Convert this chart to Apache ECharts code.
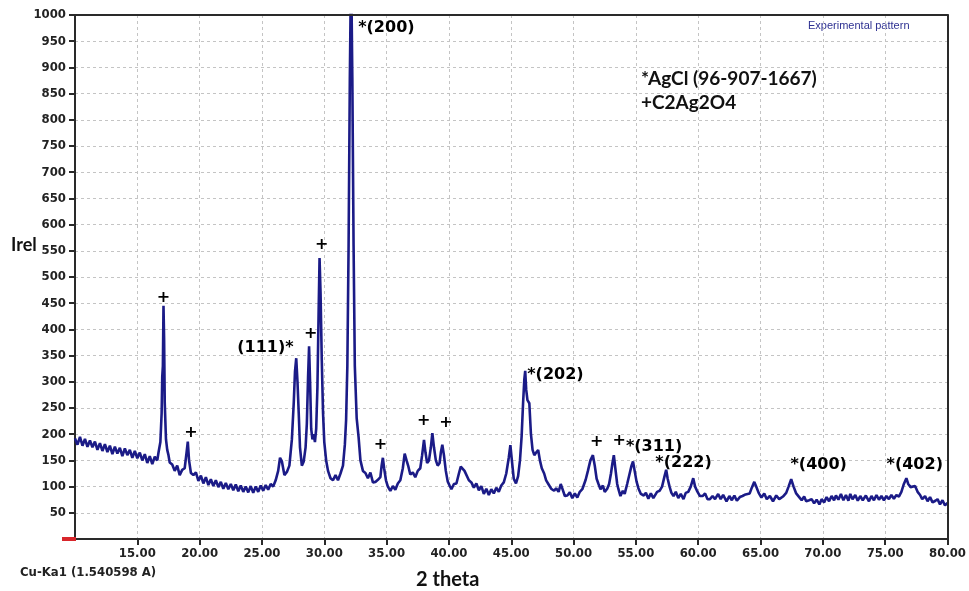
<!DOCTYPE html>
<html>
<head>
<meta charset="utf-8">
<title>XRD pattern</title>
<script src="https://cdn.jsdelivr.net/npm/echarts@6/dist/echarts.min.js"></script>
<style>
  html, body { margin: 0; background: #fff; }
  #xrd-chart { width: 969px; height: 591px; }
</style>
</head>
<body>
<div id="xrd-chart"></div>
<script>
// scan, [2theta, Irel], split in ranges
const lowAngleScan = [
  [10.0, 192], [10.2, 180], [10.4, 195], [10.6, 178], [10.8, 191], [11.0, 176], [11.2, 188], [11.4, 175],
  [11.6, 186], [11.8, 170], [12.0, 183], [12.2, 168], [12.4, 181], [12.6, 166], [12.8, 178], [13.0, 162],
  [13.2, 176], [13.4, 163], [13.6, 174], [13.8, 158], [14.0, 173], [14.2, 160], [14.4, 170], [14.6, 155],
  [14.8, 168], [15.0, 154], [15.2, 165], [15.4, 150], [15.6, 162], [15.8, 145], [16.0, 158], [16.2, 143],
  [16.4, 157], [16.6, 150], [16.7, 165], [16.85, 185], [16.95, 240], [17.0, 310], [17.05, 330], [17.1, 445],
  [17.15, 380], [17.2, 260], [17.3, 190], [17.4, 170], [17.5, 160], [17.6, 146], [17.8, 142], [18.0, 130],
  [18.2, 140], [18.4, 122], [18.6, 132], [18.8, 135], [18.95, 165], [19.05, 186], [19.15, 150], [19.3, 126],
  [19.5, 122], [19.7, 127], [19.9, 111], [20.1, 121], [20.3, 106], [20.5, 118], [20.7, 103], [20.9, 114],
  [21.1, 101], [21.3, 112], [21.5, 99], [21.7, 109], [21.9, 96], [22.1, 107], [22.3, 95], [22.5, 105],
  [22.7, 93], [22.9, 104], [23.1, 91], [23.3, 102], [23.5, 90], [23.7, 100], [23.9, 89], [24.1, 101],
  [24.3, 88], [24.5, 100], [24.7, 90], [24.9, 102], [25.1, 92], [25.3, 103], [25.5, 94], [25.7, 105],
  [25.9, 100], [26.1, 112], [26.3, 130], [26.45, 155], [26.6, 148], [26.8, 122], [27.0, 128], [27.2, 140]
];

const mainPeakScan = [
  [27.4, 190], [27.55, 260], [27.65, 320], [27.75, 345], [27.85, 300], [27.95, 240], [28.05, 175], [28.2, 140],
  [28.35, 148], [28.5, 175], [28.6, 220], [28.7, 310], [28.78, 368], [28.86, 300], [28.95, 210], [29.05, 190],
  [29.15, 200], [29.25, 185], [29.35, 210], [29.45, 290], [29.55, 440], [29.62, 536], [29.7, 470], [29.8, 340],
  [29.9, 240], [30.0, 185], [30.15, 150], [30.3, 130], [30.5, 116], [30.7, 112], [30.9, 122], [31.1, 112],
  [31.3, 125], [31.5, 140], [31.65, 180], [31.75, 227], [31.85, 330], [31.95, 560], [32.05, 880], [32.15, 1100],
  [32.25, 880], [32.35, 560], [32.45, 330], [32.6, 230], [32.75, 195], [32.9, 150], [33.1, 130], [33.3, 126],
  [33.5, 116], [33.7, 127], [33.9, 108], [34.1, 109], [34.3, 113], [34.5, 118], [34.6, 140], [34.7, 155],
  [34.8, 135], [34.95, 112], [35.1, 100], [35.3, 92], [35.5, 101], [35.7, 94], [35.9, 106], [36.1, 112],
  [36.3, 135], [36.45, 163], [36.6, 150], [36.75, 138], [36.9, 123], [37.1, 127], [37.3, 118], [37.5, 130],
  [37.7, 135], [37.85, 160], [38.0, 189], [38.12, 165], [38.25, 145], [38.4, 150], [38.55, 175], [38.67, 202],
  [38.8, 175], [38.95, 150], [39.1, 140], [39.25, 145], [39.35, 165], [39.47, 180], [39.6, 160], [39.75, 130],
  [39.9, 110], [40.05, 102], [40.2, 95], [40.4, 105], [40.6, 106], [40.8, 125], [40.95, 138], [41.1, 141],
  [41.25, 130], [41.4, 128], [41.6, 112], [41.8, 108], [42.0, 98], [42.2, 106], [42.4, 93], [42.6, 101]
];

const midAngleScan = [
  [42.8, 86], [43.0, 96], [43.2, 84], [43.4, 95], [43.6, 87], [43.8, 98], [44.0, 90], [44.2, 102],
  [44.4, 108], [44.6, 125], [44.8, 155], [44.93, 179], [45.05, 150], [45.2, 115], [45.38, 106], [45.55, 120],
  [45.7, 150], [45.83, 195], [45.95, 260], [46.05, 305], [46.12, 321], [46.2, 285], [46.3, 265], [46.45, 259],
  [46.58, 200], [46.71, 170], [46.85, 160], [47.0, 165], [47.16, 170], [47.3, 150], [47.45, 135], [47.64, 125],
  [47.8, 112], [48.0, 104], [48.2, 96], [48.44, 92], [48.6, 97], [48.8, 90], [48.97, 105], [49.1, 96],
  [49.3, 82], [49.5, 83], [49.7, 89], [49.9, 78], [50.1, 87], [50.3, 79], [50.5, 90], [50.7, 95],
  [50.85, 105], [50.97, 113], [51.15, 130], [51.35, 150], [51.55, 160], [51.7, 140], [51.85, 115], [52.0, 105],
  [52.16, 95], [52.35, 102], [52.5, 90], [52.7, 96], [52.85, 105], [53.0, 125], [53.12, 145], [53.23, 160],
  [53.35, 135], [53.5, 105], [53.6, 95], [53.76, 82], [53.95, 92], [54.1, 86], [54.3, 105], [54.5, 125],
  [54.65, 140], [54.77, 148], [54.9, 130], [55.05, 110], [55.2, 97], [55.4, 86], [55.63, 83], [55.8, 88],
  [56.0, 77], [56.2, 87], [56.4, 78], [56.7, 90], [56.9, 92], [57.1, 100], [57.3, 120], [57.43, 132],
  [57.55, 115], [57.7, 100], [57.85, 88], [58.02, 82], [58.2, 90], [58.4, 78], [58.6, 86], [58.82, 76]
];

const highAngleScan = [
  [59.0, 88], [59.2, 90], [59.4, 100], [59.6, 116], [59.75, 100], [59.9, 92], [60.14, 82], [60.35, 82],
  [60.55, 87], [60.75, 76], [60.94, 76], [61.15, 82], [61.35, 76], [61.6, 86], [61.8, 76], [62.0, 84],
  [62.27, 72], [62.5, 82], [62.7, 74], [62.9, 83], [63.1, 73], [63.34, 80], [63.55, 82], [63.8, 85],
  [64.13, 87], [64.3, 98], [64.5, 109], [64.65, 100], [64.85, 88], [65.07, 79], [65.3, 87], [65.5, 76],
  [65.75, 82], [66.0, 72], [66.26, 83], [66.5, 76], [66.8, 81], [67.06, 88], [67.25, 100], [67.46, 114],
  [67.65, 100], [67.86, 87], [68.1, 80], [68.3, 74], [68.5, 81], [68.66, 72], [68.9, 74], [69.1, 76],
  [69.3, 68], [69.5, 75], [69.72, 66], [69.9, 76], [70.1, 70], [70.3, 80], [70.5, 72], [70.7, 82],
  [70.9, 74], [71.05, 83], [71.25, 75], [71.45, 86], [71.65, 74], [71.85, 84], [72.05, 73], [72.2, 86],
  [72.38, 76], [72.6, 84], [72.8, 73], [73.0, 82], [73.2, 74], [73.45, 83], [73.7, 72], [73.9, 82],
  [74.1, 74], [74.3, 84], [74.5, 75], [74.7, 82], [74.9, 74], [75.1, 82], [75.3, 76], [75.5, 84],
  [75.7, 77], [75.9, 84], [76.1, 81], [76.3, 90], [76.5, 105], [76.7, 116], [76.85, 105], [77.04, 99],
  [77.2, 100], [77.4, 101], [77.6, 90], [77.8, 84], [77.97, 76], [78.2, 82], [78.4, 72], [78.6, 80],
  [78.8, 70], [79.03, 73], [79.2, 76], [79.4, 66], [79.6, 74], [79.8, 64], [80.0, 69]
];

// peak labels and where they sit (in chart units)
const peakLabels = ['+', '+', '(111)*', '+', '+', '*(200)', '+', '+', '+', '*(202)', '+', '+', '*(311)', '*(222)', '*(400)', '*(402)'];
const peakLabelX = [17.1, 19.3, 27.54, 28.92, 29.8, 32.72, 34.5, 37.98, 39.76, 46.28, 51.86, 53.67, 54.2, 56.56, 67.4, 75.11];
const peakLabelY = [461, 203, 365, 391, 561, 975, 179, 226, 222, 314, 185, 188, 176, 145, 141, 141];

const phaseKey = ['*AgCl (96-907-1667)', '+C2Ag2O4'];

const scan = [].concat(lowAngleScan, mainPeakScan, midAngleScan, highAngleScan);

const labelFont = "'Liberation Sans Narrow', 'DejaVu Sans Condensed', 'Liberation Sans', sans-serif";
const frameColor = '#2a2a2a';

const chart = echarts.init(document.getElementById('xrd-chart'));

const annotations = peakLabels.map(function (text, i) {
  // '+' marks are centred, '(111)*' ends at its peak, the rest start there
  let align = 'left';
  if (text === '+') align = 'center';
  if (text.charAt(text.length - 1) === '*') align = 'right';
  return {
    value: [peakLabelX[i], peakLabelY[i]],
    label: { formatter: text, align: align }
  };
});

const gridLine = { show: true, lineStyle: { color: '#c4c4c4', type: [3, 3], width: 1 } };

let option = {
  animation: false,
  grid: { left: 75, right: 16, top: 15, bottom: 52 },
  xAxis: [
    {
      type: 'value',
      min: 10,
      max: 80,
      interval: 5,
      axisLine: { onZero: false, lineStyle: { color: frameColor, width: 2 } },
      axisTick: { show: true, length: 6, lineStyle: { color: frameColor, width: 2 } },
      axisLabel: {
        showMinLabel: false,
        margin: 8,
        color: '#222',
        fontWeight: 'bold',
        fontSize: 13,
        fontFamily: labelFont,
        formatter: function (v) { return v.toFixed(2); }
      },
      splitLine: gridLine,
      z: 1
    },
    {
      // top edge of the frame
      type: 'value', position: 'top', min: 10, max: 80, interval: 5,
      axisLine: { onZero: false, lineStyle: { color: frameColor, width: 2 } },
      axisTick: { show: false }, axisLabel: { show: false }, splitLine: { show: false },
      z: 4
    }
  ],
  yAxis: [
    {
      type: 'value',
      min: 0,
      max: 1000,
      interval: 50,
      axisLine: { show: true, lineStyle: { color: frameColor, width: 2 } },
      axisTick: { show: true, length: 6, lineStyle: { color: frameColor, width: 2 } },
      axisLabel: {
        showMinLabel: false,
        margin: 9,
        color: '#222',
        fontWeight: 'bold',
        fontSize: 13,
        fontFamily: labelFont,
        formatter: function (v) { return String(v); }
      },
      splitLine: gridLine,
      z: 1
    },
    {
      // right edge of the frame
      type: 'value', position: 'right', min: 0, max: 1000, interval: 50,
      axisLine: { show: true, onZero: false, lineStyle: { color: frameColor, width: 2 } },
      axisTick: { show: false }, axisLabel: { show: false }, splitLine: { show: false },
      z: 4
    }
  ],
  series: [
    {
      name: 'Experimental pattern',
      type: 'line',
      data: scan,
      showSymbol: false,
      symbol: 'none',
      clip: true,
      lineStyle: { color: '#1b1b87', width: 2.6 },
      z: 3
    },
    {
      name: 'peaks',
      type: 'scatter',
      data: annotations,
      symbolSize: 0,
      silent: true,
      clip: false,
      itemStyle: { color: '#000', opacity: 1 },
      label: {
        show: true,
        position: 'inside',
        verticalAlign: 'middle',
        color: '#000',
        opacity: 1,
        textBorderWidth: 0,
        fontWeight: 'bold',
        fontSize: 16,
        fontFamily: "'DejaVu Sans', sans-serif"
      },
      z: 5
    }
  ],
  graphic: [
    {
      id: 'pattern-name', type: 'text', left: 808, top: 20,
      style: { text: 'Experimental pattern', fill: '#2e3192', font: '11px "Liberation Sans", sans-serif' }
    },
    {
      id: 'phase-key', type: 'text', left: 641, top: 67,
      style: { text: phaseKey.join('\n'), fill: '#111', font: 'bold 19px Lato, sans-serif', lineHeight: 24 }
    },
    {
      id: 'y-name', type: 'text', left: 11, top: 236,
      style: { text: 'Irel', fill: '#111', font: 'bold 18px Lato, sans-serif' }
    },
    {
      id: 'x-name', type: 'text', left: 416, top: 570,
      style: { text: '2 theta', fill: '#111', font: 'bold 20px Lato, sans-serif' }
    },
    {
      id: 'source', type: 'text', left: 20, top: 566,
      style: { text: 'Cu-Ka1 (1.540598 A)', fill: '#222', font: 'bold 13px ' + labelFont }
    }
  ]
};

// show chart with specified configuration
chart.setOption(option);

// little red marker at the origin, like the instrument software draws
const origin = chart.convertToPixel({ gridIndex: 0 }, [10, 0]);
chart.setOption({
  graphic: [
    {
      id: 'origin-mark',
      type: 'rect',
      shape: { x: origin[0] - 13, y: origin[1] - 2, width: 14, height: 4 },
      style: { fill: '#d8262b' },
      z: 10
    }
  ]
});
</script>
</body>
</html>
